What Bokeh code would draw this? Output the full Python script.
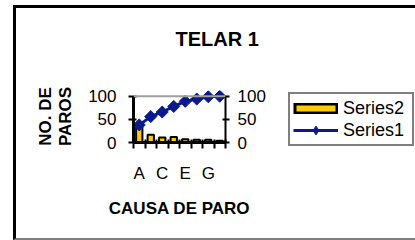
import numpy as np
from bokeh.plotting import figure
from bokeh.layouts import row, column
from bokeh.models import (Range1d, LinearAxis, FixedTicker, Span, Legend,
                          LegendItem, InlineStyleSheet, Title)
from bokeh.embed import file_html
from bokeh.resources import INLINE

# ---- data ----
categories = ["A", "B", "C", "D", "E", "F", "G", "H"]
series2 = [38, 17, 11, 12, 7, 6, 6, 4]          # bars
series1 = [38, 56, 66, 78, 89, 94, 99, 100]     # cumulative line
y_ticks = [0, 50, 100]
x_label_cats = ["A", "C", "E", "G"]
series_names = ["Series2", "Series1"]
title_text = "TELAR 1"
x_title = "CAUSA DE PARO"
y_title = "NO. DE\nPAROS"

FONT = "Liberation Sans"
NAVY = "#0A1A8C"
YELLOW = "#FFCC00"

xs = [i + 0.5 for i in range(len(categories))]
label_pos = [categories.index(c) + 0.5 for c in x_label_cats]

p = figure(width=268, height=240, output_backend="svg", toolbar_location=None,
           x_range=Range1d(0, len(categories)), y_range=Range1d(0, 112.5),
           min_border_left=133, min_border_right=42, min_border_top=88,
           min_border_bottom=98, x_axis_location=None, y_axis_location=None)
p.outline_line_color = None
p.background_fill_color = "white"
p.border_fill_color = "white"
for g in p.grid:
    g.visible = False

# spacer between frame and title
p.add_layout(Title(text=" ", text_font_size="1px", standoff=13), "above")

# title
p.title.text = title_text
p.title.align = "left"
p.title.offset = 42
p.title.standoff = 50
p.title.text_font = FONT
p.title.text_font_size = "20px"
p.title.text_font_style = "bold"
p.title.text_color = "black"

# top gray line of plot area
p.add_layout(Span(location=100, dimension="width", line_color="#A0A0A0", line_width=2))

bars = p.vbar(x=xs, top=series2, bottom=0, width=0.55, fill_color=YELLOW,
              line_color="black", line_width=2)
line = p.line(xs, series1, line_color=NAVY, line_width=3)
marks = p.scatter(xs, series1, marker="square", angle=np.pi / 4, size=8.5,
                  fill_color=NAVY, line_color=NAVY)

def style_axis(ax, width):
    ax.axis_line_color = "black"
    ax.axis_line_width = width
    ax.major_tick_line_color = "black"
    ax.major_tick_line_width = 2
    ax.major_label_text_font = FONT
    ax.major_label_text_font_size = "17px"
    ax.major_label_text_color = "black"
    ax.axis_label_text_font = FONT
    ax.axis_label_text_font_size = "17px"
    ax.axis_label_text_font_style = "bold"
    ax.axis_label_text_color = "black"

yl = LinearAxis(ticker=FixedTicker(ticks=y_ticks), bounds=(0, 100), axis_label=y_title)
style_axis(yl, 3)
yl.major_tick_in = 3
yl.major_tick_out = 5
yl.major_label_standoff = 12
yl.axis_label_standoff = 10
yl.axis_label_text_line_height = 1.05
yl.minor_tick_line_color = None
p.add_layout(yl, "left")

yr = LinearAxis(ticker=FixedTicker(ticks=y_ticks), bounds=(0, 100))
style_axis(yr, 2)
yr.major_tick_in = 3
yr.major_tick_out = 4
yr.major_label_standoff = 8
yr.minor_tick_line_color = None
p.add_layout(yr, "right")

xa = LinearAxis(ticker=FixedTicker(ticks=label_pos, minor_ticks=list(range(len(categories) + 1))),
                bounds=(0, len(categories)), axis_label=x_title)
style_axis(xa, 3)
xa.major_label_overrides = {pos: c for pos, c in zip(label_pos, x_label_cats)}
xa.major_tick_line_color = None
xa.major_tick_in = 0
xa.major_tick_out = 6
xa.minor_tick_line_color = "black"
xa.minor_tick_line_width = 2
xa.minor_tick_in = 3
xa.minor_tick_out = 6
xa.major_label_standoff = 15
xa.axis_label_standoff = 13
p.add_layout(xa, "below")

# ---- legend panel (separate small figure to the right) ----
q = figure(width=147, height=240, output_backend="svg", toolbar_location=None,
           x_range=Range1d(0, 1), y_range=Range1d(0, 1), min_border=0,
           x_axis_location=None, y_axis_location=None)
q.outline_line_color = None
q.background_fill_color = "white"
q.border_fill_color = "white"
for g in q.grid:
    g.visible = False
# swatch renderers placed outside the visible range (legend only)
off = [-5, -4]
sw_black = q.line(x=off, y=off, line_color="black", line_width=11)
sw_yellow = q.line(x=off, y=off, line_color=YELLOW, line_width=6, line_dash="0 3 39 3")
sw_line = q.line(x=off, y=off, line_color=NAVY, line_width=3)
sw_mark = q.scatter(x=off, y=off, marker="diamond", fill_color=NAVY, line_color=NAVY)

legend = Legend(items=[LegendItem(label=series_names[0], renderers=[sw_black, sw_yellow]),
                       LegendItem(label=series_names[1], renderers=[sw_line, sw_mark])],
                location=(20, 94), orientation="vertical")
legend.border_line_color = "black"
legend.border_line_width = 2
legend.background_fill_color = "white"
legend.background_fill_alpha = 1
legend.label_text_font = FONT
legend.label_text_font_size = "18px"
legend.label_text_color = "black"
legend.glyph_width = 45
legend.glyph_height = 22
legend.label_height = 22
legend.label_width = 66
legend.spacing = 0
legend.padding = 3
legend.margin = 0
legend.label_standoff = 5
q.add_layout(legend, "center")

layout = row(p, column(q, spacing=0), spacing=0)
# outer chart border (decorative frame of the chart area)
layout.stylesheets = [InlineStyleSheet(css=""":host::after {
  content: ""; position: absolute; left: 13px; top: 5px; width: 402px; height: 235px;
  box-sizing: border-box; border-left: 3px solid black; border-top: 3px solid black;
  border-bottom: 2px solid #808080; pointer-events: none; z-index: 100;
}""")]

open("out.html", "w").write(file_html(layout, INLINE))
